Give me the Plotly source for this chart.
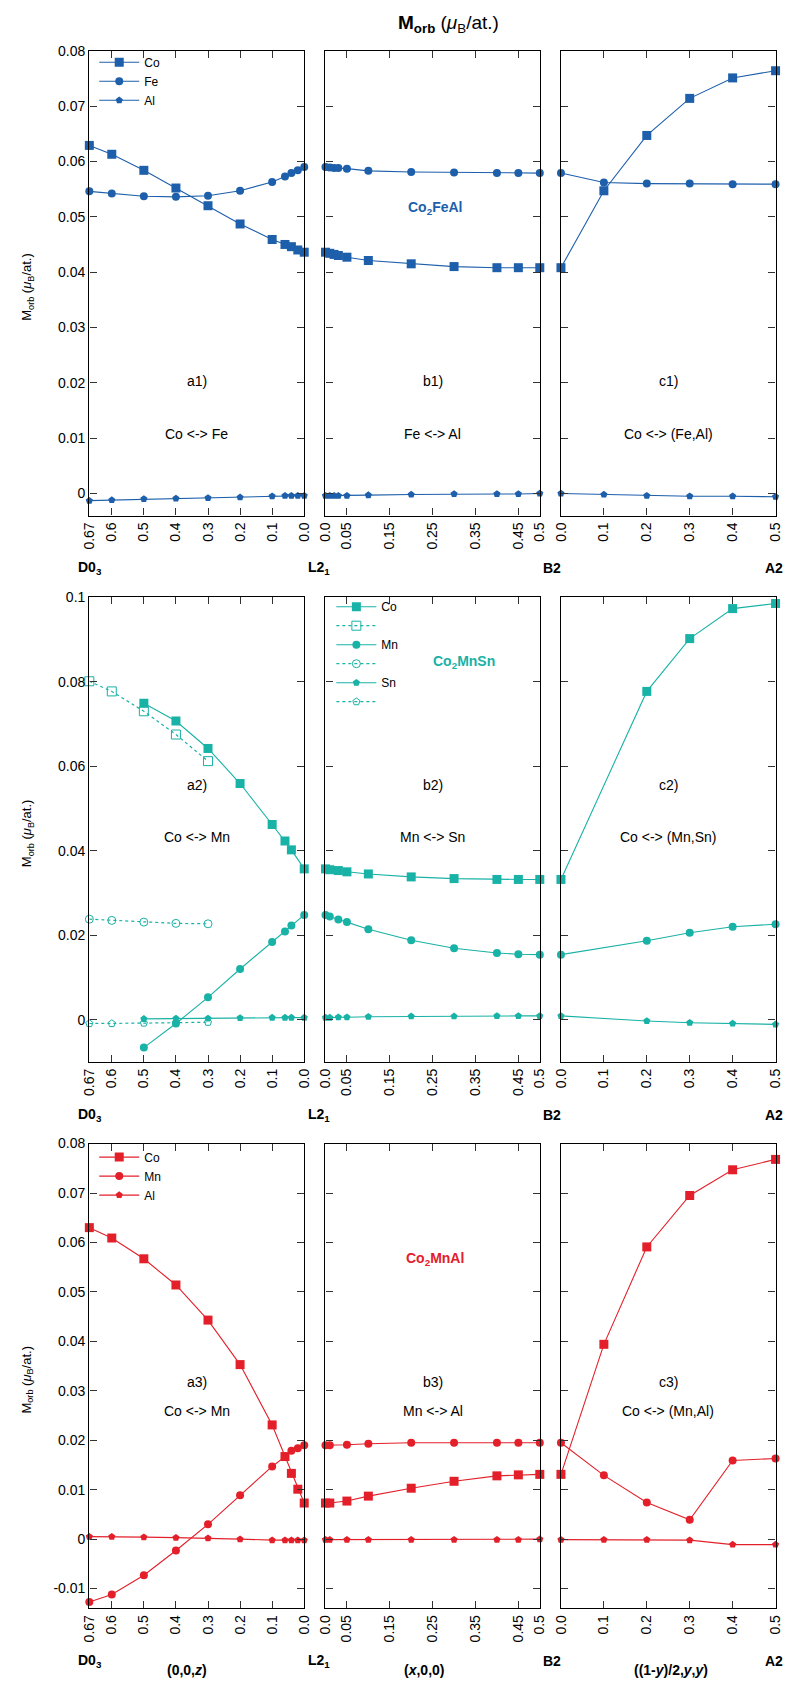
import plotly.graph_objects as go

# ---------------- data ----------------
BLUE = "#1d5fab"
TEAL = "#19b2a6"
RED = "#e3202a"

# Row 1: Co2FeAl
x_a1 = [0.67, 0.6, 0.5, 0.4, 0.3, 0.2, 0.1, 0.06, 0.04, 0.02, 0.0]
co_a1 = [0.0629, 0.0613, 0.0584, 0.0552, 0.0520, 0.0487, 0.0459, 0.0450, 0.0446, 0.0440, 0.0436]
fe_a1 = [0.0546, 0.0542, 0.0537, 0.0536, 0.0538, 0.0547, 0.0563, 0.0573, 0.0579, 0.0584, 0.0590]
al_a1 = [-0.0013, -0.0012, -0.0010, -0.0009, -0.0008, -0.0007, -0.0005, -0.0004, -0.0004, -0.0004, -0.0004]

x_b1 = [0.0, 0.01, 0.02, 0.03, 0.05, 0.1, 0.2, 0.3, 0.4, 0.45, 0.5]
co_b1 = [0.0436, 0.0434, 0.0432, 0.0430, 0.0427, 0.0421, 0.0415, 0.0410, 0.0408, 0.0408, 0.0408]
fe_b1 = [0.0590, 0.0589, 0.0588, 0.0588, 0.0587, 0.0583, 0.0581, 0.0580, 0.0579, 0.0579, 0.0579]
al_b1 = [-0.0004, -0.0004, -0.0004, -0.0004, -0.0004, -0.0003, -0.0002, -0.0001, -0.0001, -0.0001, 0.0]

x_c1 = [0.0, 0.1, 0.2, 0.3, 0.4, 0.5]
co_c1 = [0.0408, 0.0547, 0.0647, 0.0714, 0.0751, 0.0764]
fe_c1 = [0.0579, 0.0562, 0.0560, 0.0560, 0.0559, 0.0559]
al_c1 = [0.0, -0.0002, -0.0004, -0.0005, -0.0005, -0.0006]

# Row 2: Co2MnSn
x_a2 = [0.5, 0.4, 0.3, 0.2, 0.1, 0.06, 0.04, 0.0]
co_a2 = [0.0749, 0.0707, 0.0642, 0.0559, 0.0462, 0.0423, 0.0402, 0.0357]
mn_a2 = [-0.0066, -0.0009, 0.0053, 0.0120, 0.0184, 0.0209, 0.0223, 0.0248]
sn_a2 = [0.0002, 0.0003, 0.0003, 0.0004, 0.0005, 0.0005, 0.0005, 0.0005]
x_a2_dot = [0.67, 0.6, 0.5, 0.4, 0.3]
co_a2_dot = [0.0801, 0.0777, 0.0730, 0.0675, 0.0612]
mn_a2_dot = [0.0238, 0.0235, 0.0231, 0.0228, 0.0227]
sn_a2_dot = [-0.0009, -0.0009, -0.0008, -0.0007, -0.0006]

x_b2 = [0.0, 0.01, 0.03, 0.05, 0.1, 0.2, 0.3, 0.4, 0.45, 0.5]
co_b2 = [0.0357, 0.0355, 0.0353, 0.0350, 0.0345, 0.0338, 0.0334, 0.0332, 0.0332, 0.0332]
mn_b2 = [0.0248, 0.0244, 0.0237, 0.0231, 0.0214, 0.0188, 0.0169, 0.0158, 0.0155, 0.0154]
sn_b2 = [0.0005, 0.0005, 0.0006, 0.0006, 0.0007, 0.0008, 0.0008, 0.0009, 0.0009, 0.0009]

x_c2 = [0.0, 0.2, 0.3, 0.4, 0.5]
co_c2 = [0.0332, 0.0777, 0.0902, 0.0973, 0.0985]
mn_c2 = [0.0154, 0.0187, 0.0206, 0.0220, 0.0226]
sn_c2 = [0.0009, -0.0003, -0.0007, -0.0009, -0.0011]

# Row 3: Co2MnAl
x_a3 = [0.67, 0.6, 0.5, 0.4, 0.3, 0.2, 0.1, 0.06, 0.04, 0.02, 0.0]
co_a3 = [0.0630, 0.0609, 0.0567, 0.0514, 0.0443, 0.0353, 0.0231, 0.0167, 0.0133, 0.0101, 0.0073]
mn_a3 = [-0.0127, -0.0112, -0.0073, -0.0023, 0.0030, 0.0089, 0.0147, 0.0167, 0.0179, 0.0184, 0.0190]
al_a3 = [0.0005, 0.0005, 0.0004, 0.0003, 0.0002, 0.0000, -0.0002, -0.0002, -0.0002, -0.0002, -0.0002]

x_b3 = [0.0, 0.01, 0.05, 0.1, 0.2, 0.3, 0.4, 0.45, 0.5]
co_b3 = [0.0073, 0.0073, 0.0077, 0.0087, 0.0103, 0.0117, 0.0128, 0.0130, 0.0131]
mn_b3 = [0.0190, 0.0190, 0.0191, 0.0193, 0.0195, 0.0195, 0.0195, 0.0195, 0.0195]
al_b3 = [-0.0001, -0.0001, -0.0001, -0.0001, -0.0001, -0.0001, -0.0001, -0.0001, 0.0]

x_c3 = [0.0, 0.1, 0.2, 0.3, 0.4, 0.5]
co_c3 = [0.0131, 0.0394, 0.0591, 0.0695, 0.0747, 0.0768]
mn_c3 = [0.0195, 0.0129, 0.0074, 0.0039, 0.0159, 0.0163]
al_c3 = [-0.0001, -0.0001, -0.0001, -0.0002, -0.0011, -0.0011]

# tick labels
xt_a_vals = [0.67, 0.6, 0.5, 0.4, 0.3, 0.2, 0.1, 0.0]
xt_a_text = ["0.67", "0.6", "0.5", "0.4", "0.3", "0.2", "0.1", "0.0"]
xt_b_vals = [0.0, 0.05, 0.15, 0.25, 0.35, 0.45, 0.5]
xt_b_text = ["0.0", "0.05", "0.15", "0.25", "0.35", "0.45", "0.5"]
xt_c_vals = [0.0, 0.1, 0.2, 0.3, 0.4, 0.5]
xt_c_text = ["0.0", "0.1", "0.2", "0.3", "0.4", "0.5"]

yt1_vals = [0, 0.01, 0.02, 0.03, 0.04, 0.05, 0.06, 0.07, 0.08]
yt1_text = ["0", "0.01", "0.02", "0.03", "0.04", "0.05", "0.06", "0.07", "0.08"]
yt2_vals = [0, 0.02, 0.04, 0.06, 0.08, 0.1]
yt2_text = ["0", "0.02", "0.04", "0.06", "0.08", "0.1"]
yt3_vals = [-0.01, 0, 0.01, 0.02, 0.03, 0.04, 0.05, 0.06, 0.07, 0.08]
yt3_text = ["-0.01", "0", "0.01", "0.02", "0.03", "0.04", "0.05", "0.06", "0.07", "0.08"]

yrange1 = [-0.004, 0.08]
yrange2 = [-0.01, 0.1]
yrange3 = [-0.014, 0.08]

# ---------------- layout geometry (pixels) ----------------
W, H = 796, 1684
col_px = [(83, 302.3), (324, 542.7), (564.3, 783.3)]
row_px = [(43, 510), (592, 1059), (1141, 1608)]

FONT = "Liberation Sans, Arial, sans-serif"

fig = go.Figure()

SYM = {"Co": ("square", 9), "X": ("circle", 8), "Y": ("pentagon", 7.5)}


def add(panel, x, y, kind, color, name, legend, showlegend, dotted=False):
    sym, size = SYM[kind]
    if dotted:
        sym = sym + "-open"
        marker = dict(symbol=sym, size=size, color=color, line=dict(width=1, color=color))
        line = dict(color=color, width=1.2, dash="dot")
    else:
        marker = dict(symbol=sym, size=size, color=color, line=dict(width=0))
        line = dict(color=color, width=1.1)
    fig.add_trace(go.Scatter(
        x=x, y=y, mode="lines+markers", name=name, marker=marker, line=line,
        xaxis="x" if panel == 1 else f"x{panel}",
        yaxis="y" if panel == 1 else f"y{panel}",
        legend=legend, showlegend=showlegend, cliponaxis=False,
    ))


# Row 1
add(1, x_a1, co_a1, "Co", BLUE, "Co", "legend", True)
add(1, x_a1, fe_a1, "X", BLUE, "Fe", "legend", True)
add(1, x_a1, al_a1, "Y", BLUE, "Al", "legend", True)
add(2, x_b1, co_b1, "Co", BLUE, "Co", "legend", False)
add(2, x_b1, fe_b1, "X", BLUE, "Fe", "legend", False)
add(2, x_b1, al_b1, "Y", BLUE, "Al", "legend", False)
add(3, x_c1, co_c1, "Co", BLUE, "Co", "legend", False)
add(3, x_c1, fe_c1, "X", BLUE, "Fe", "legend", False)
add(3, x_c1, al_c1, "Y", BLUE, "Al", "legend", False)

# Row 2
add(4, x_a2, co_a2, "Co", TEAL, "Co", "legend2", True)
add(4, x_a2_dot, co_a2_dot, "Co", TEAL, " ", "legend2", True, dotted=True)
add(4, x_a2, mn_a2, "X", TEAL, "Mn", "legend2", True)
add(4, x_a2_dot, mn_a2_dot, "X", TEAL, " ", "legend2", True, dotted=True)
add(4, x_a2, sn_a2, "Y", TEAL, "Sn", "legend2", True)
add(4, x_a2_dot, sn_a2_dot, "Y", TEAL, " ", "legend2", True, dotted=True)
add(5, x_b2, co_b2, "Co", TEAL, "Co", "legend2", False)
add(5, x_b2, mn_b2, "X", TEAL, "Mn", "legend2", False)
add(5, x_b2, sn_b2, "Y", TEAL, "Sn", "legend2", False)
add(6, x_c2, co_c2, "Co", TEAL, "Co", "legend2", False)
add(6, x_c2, mn_c2, "X", TEAL, "Mn", "legend2", False)
add(6, x_c2, sn_c2, "Y", TEAL, "Sn", "legend2", False)

# Row 3
add(7, x_a3, co_a3, "Co", RED, "Co", "legend3", True)
add(7, x_a3, mn_a3, "X", RED, "Mn", "legend3", True)
add(7, x_a3, al_a3, "Y", RED, "Al", "legend3", True)
add(8, x_b3, co_b3, "Co", RED, "Co", "legend3", False)
add(8, x_b3, mn_b3, "X", RED, "Mn", "legend3", False)
add(8, x_b3, al_b3, "Y", RED, "Al", "legend3", False)
add(9, x_c3, co_c3, "Co", RED, "Co", "legend3", False)
add(9, x_c3, mn_c3, "X", RED, "Mn", "legend3", False)
add(9, x_c3, al_c3, "Y", RED, "Al", "legend3", False)

axis_common = dict(
    showline=True, linecolor="black", linewidth=1.4, mirror="ticks",
    ticks="inside", ticklen=7, tickwidth=1.1, tickcolor="#333333",
    showgrid=False, zeroline=False,
    tickfont=dict(family=FONT, size=14, color="black"),
)

xticks = [(xt_a_vals, xt_a_text, [0.67, 0.0]),
          (xt_b_vals, xt_b_text, [0.0, 0.5]),
          (xt_c_vals, xt_c_text, [0.0, 0.5])]
yticks = [(yt1_vals, yt1_text, yrange1),
          (yt2_vals, yt2_text, yrange2),
          (yt3_vals, yt3_text, yrange3)]

layout = {}
for r in range(3):
    for c in range(3):
        k = r * 3 + 1 + c
        xk = "xaxis" if k == 1 else f"xaxis{k}"
        yk = "yaxis" if k == 1 else f"yaxis{k}"
        xv, xtxt, xr = xticks[c]
        yv, ytxt, yr = yticks[r]
        x0, x1 = col_px[c]
        y0, y1 = row_px[r]
        layout[xk] = dict(axis_common, domain=[x0 / W, x1 / W], range=xr,
                          tickmode="array", tickvals=xv, ticktext=xtxt, tickangle=-90,
                          anchor="y" if k == 1 else f"y{k}")
        layout[yk] = dict(axis_common, domain=[1 - y1 / H, 1 - y0 / H], range=yr,
                          tickmode="array", tickvals=yv, ticktext=ytxt,
                          showticklabels=(c == 0),
                          anchor="x" if k == 1 else f"x{k}")

fig.update_layout(**layout)

# ---------------- annotations ----------------
ann = []


def px(x, y, text, size=14, color="black", xanchor="center", angle=0):
    ann.append(dict(x=x / W, y=1 - y / H, xref="paper", yref="paper", text=text,
                    showarrow=False, xanchor=xanchor, yanchor="middle", textangle=angle,
                    font=dict(family=FONT, size=size, color=color)))


# title
px(450, 16, "<b>M<sub>orb</sub></b> (<i>μ</i><sub>B</sub>/at.)", size=19)

# y-axis titles
for (y0, y1) in row_px:
    px(20, (y0 + y1) / 2 + 4, "M<sub>orb</sub> (<i>μ</i><sub>B</sub>/at.)", size=13, angle=-90)

# phase labels
for r, (y0, y1) in enumerate(row_px):
    yy = y1 + 53
    px(84, yy, "<b>D0<sub>3</sub></b>", size=14)
    px(317, yy, "<b>L2<sub>1</sub></b>", size=14)
    px(555, yy, "<b>B2</b>", size=14)
    px(782, yy, "<b>A2</b>", size=14)

# coordinate labels on bottom
px(183, 1670, "<b>(0,0,<i>z</i>)</b>", size=14)
px(425, 1670, "<b>(<i>x</i>,0,0)</b>", size=14)
px(677, 1670, "<b>((1-<i>y</i>)/2,<i>y</i>,<i>y</i>)</b>", size=14)

# panel labels
panel_labels = [
    ["a1)", "b1)", "c1)"], ["a2)", "b2)", "c2)"], ["a3)", "b3)", "c3)"]]
panel_desc = [
    ["Co &lt;-&gt; Fe", "Fe &lt;-&gt; Al", "Co &lt;-&gt; (Fe,Al)"],
    ["Co &lt;-&gt; Mn", "Mn &lt;-&gt; Sn", "Co &lt;-&gt; (Mn,Sn)"],
    ["Co &lt;-&gt; Mn", "Mn &lt;-&gt; Al", "Co &lt;-&gt; (Mn,Al)"]]
label_y = [(375, 428), (781, 833), (1381, 1410)]
for r in range(3):
    for c in range(3):
        cx = (col_px[c][0] + col_px[c][1]) / 2
        px(cx, label_y[r][0], panel_labels[r][c], size=14)
        px(cx, label_y[r][1], panel_desc[r][c], size=14)

# compound names
bx = (col_px[1][0] + col_px[1][1]) / 2
px(bx + 2, 201, "<b>Co<sub>2</sub>FeAl</b>", size=14, color=BLUE)
px(bx + 32, 657, "<b>Co<sub>2</sub>MnSn</b>", size=14, color=TEAL)
px(bx + 2, 1257, "<b>Co<sub>2</sub>MnAl</b>", size=14, color=RED)

leg_common = dict(bgcolor="rgba(0,0,0,0)", borderwidth=0, xanchor="left", yanchor="top",
                  font=dict(family=FONT, size=12, color="black"), itemwidth=40,
                  tracegroupgap=0)

fig.update_layout(
    width=W, height=H, autosize=False,
    margin=dict(l=0, r=0, t=0, b=0),
    paper_bgcolor="white", plot_bgcolor="white",
    annotations=ann,
    legend=dict(leg_common, x=88 / W, y=1 - 40 / H),
    legend2=dict(leg_common, x=330 / W, y=1 - 587 / H),
    legend3=dict(leg_common, x=88 / W, y=1 - 1140 / H),
    font=dict(family=FONT, size=14, color="black"),
)

fig.write_html("out.html", config={"displayModeBar": False},
               post_script="document.body.style.margin='0';")
